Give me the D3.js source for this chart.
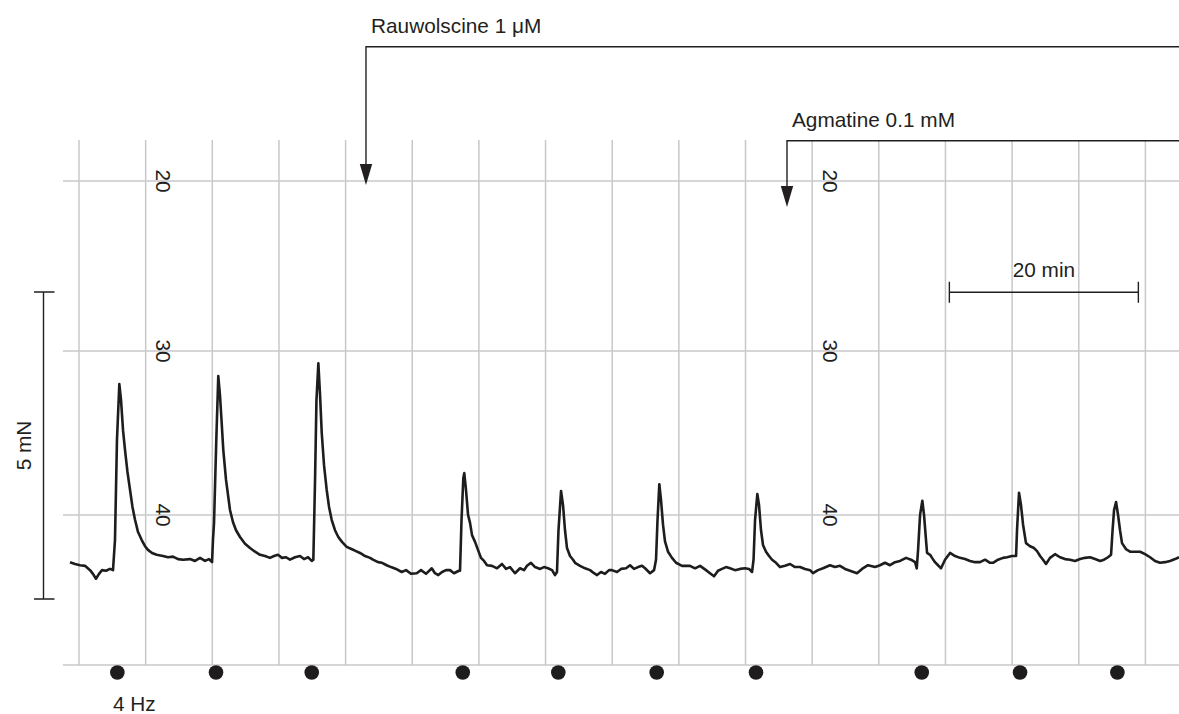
<!DOCTYPE html>
<html>
<head>
<meta charset="utf-8">
<script src="https://cdn.jsdelivr.net/npm/d3@7"></script>
<style>
  body { margin: 0; background: #fff; }
  text { font-family: "Liberation Sans", Arial, Helvetica, sans-serif; fill: #231f20; }
</style>
</head>
<body>
<div id="container"></div>
<script>
/* CONSTANTS AND GLOBALS */
const width = 1179,
  height = 714,
  fontSize = 20.8;

/* DATA */
// force trace: [time (min), tension (mN)]
const trace = [
  [0.00,0.60],[0.53,0.57],[1.06,0.55],[1.59,0.54],[2.12,0.47],[2.43,0.41],[2.75,0.33],[3.07,0.41],
  [3.39,0.47],[3.81,0.46],[4.23,0.49],[4.55,0.47],[4.76,0.96],[4.97,2.59],[5.22,3.50],[5.40,3.24],
  [5.61,2.75],[5.82,2.43],[6.08,2.07],[6.35,1.78],[6.61,1.50],[6.88,1.29],[7.20,1.09],[7.59,0.96],
  [7.94,0.86],[8.25,0.80],[8.68,0.75],[9.17,0.72],[9.84,0.70],[10.37,0.68],[10.90,0.69],[11.43,0.65],
  [11.96,0.64],[12.70,0.65],[13.23,0.62],[13.76,0.67],[14.29,0.62],[14.71,0.65],[15.03,0.60],
  [15.13,0.96],[15.24,1.24],[15.48,2.59],[15.69,3.63],[15.87,3.32],[16.03,2.92],[16.22,2.43],
  [16.51,1.94],[16.93,1.45],[17.25,1.25],[17.57,1.12],[17.99,1.01],[18.52,0.90],[19.05,0.83],
  [19.58,0.77],[20.11,0.72],[20.64,0.70],[21.16,0.67],[21.59,0.70],[22.01,0.72],[22.43,0.67],
  [22.86,0.68],[23.28,0.64],[23.81,0.68],[24.34,0.70],[24.76,0.65],[25.19,0.68],[25.58,0.62],
  [25.75,0.64],[25.93,1.94],[26.08,3.24],[26.28,3.84],[26.46,3.32],[26.64,2.70],[26.88,2.18],
  [27.16,1.78],[27.41,1.50],[27.69,1.29],[28.04,1.12],[28.39,1.01],[28.78,0.93],[29.28,0.85],
  [29.84,0.81],[30.26,0.78],[30.69,0.75],[31.22,0.70],[31.75,0.67],[32.06,0.64],[32.59,0.60],
  [33.02,0.59],[33.51,0.55],[33.97,0.52],[34.50,0.49],[35.10,0.44],[35.56,0.47],[36.08,0.41],
  [36.69,0.42],[37.14,0.47],[37.67,0.41],[38.28,0.50],[38.62,0.42],[38.97,0.39],[39.37,0.44],
  [39.79,0.47],[40.21,0.47],[40.63,0.42],[41.16,0.46],
  [41.27,0.46],[41.43,1.29],[41.62,1.97],[41.72,2.05],[41.90,1.78],[42.12,1.37],[42.33,1.24],
  [42.54,1.04],[42.86,0.93],[43.17,0.80],[43.49,0.67],[43.81,0.62],[44.13,0.55],[44.66,0.54],
  [45.19,0.50],[45.71,0.57],[46.14,0.49],[46.56,0.52],[47.09,0.42],[47.62,0.50],[48.04,0.47],
  [48.36,0.54],[48.78,0.59],[49.21,0.52],[49.74,0.49],[50.16,0.52],[50.58,0.50],[51.01,0.47],
  [51.32,0.39],
  [51.53,0.44],[51.69,1.12],[51.96,1.76],[52.17,1.53],[52.38,1.12],[52.59,0.83],[52.91,0.70],
  [53.23,0.64],[53.44,0.59],[53.97,0.54],[54.50,0.50],[55.03,0.47],[55.45,0.42],[55.77,0.39],
  [56.19,0.44],[56.61,0.41],[57.04,0.47],[57.35,0.47],[57.88,0.44],[58.31,0.49],[58.84,0.50],
  [59.26,0.55],[59.68,0.49],[60.11,0.52],[60.53,0.54],[60.85,0.50],[61.38,0.42],
  [61.80,0.47],[62.01,0.64],[62.17,1.29],[62.36,1.87],[62.54,1.61],[62.75,1.21],[62.96,0.94],
  [63.28,0.77],[63.70,0.67],[64.13,0.59],[64.76,0.54],[65.61,0.54],[66.14,0.50],[66.67,0.54],
  [67.30,0.47],[67.72,0.42],[68.15,0.37],[68.57,0.46],[68.99,0.49],[69.42,0.52],[69.84,0.50],
  [70.37,0.47],[70.90,0.49],[71.43,0.50],[71.85,0.49],[72.17,0.44],
  [72.33,0.64],[72.49,1.29],[72.73,1.71],[72.91,1.53],[73.12,1.12],[73.33,0.88],[73.65,0.77],
  [73.97,0.70],[74.29,0.64],[74.71,0.59],[75.13,0.52],[75.66,0.54],[76.19,0.57],[76.72,0.52],
  [77.25,0.52],[77.78,0.49],[78.31,0.47],[78.62,0.42],[79.15,0.47],[79.68,0.50],[80.42,0.55],
  [80.95,0.52],[81.48,0.54],[82.01,0.49],[82.54,0.46],[83.28,0.42],[83.81,0.49],[84.44,0.55],
  [85.19,0.52],[85.71,0.55],[86.24,0.59],[86.77,0.55],[87.30,0.60],[87.83,0.62],[88.47,0.67],
  [88.99,0.64],[89.42,0.60],[89.60,0.50],
  [89.74,0.80],[89.95,1.37],[90.19,1.60],[90.37,1.37],[90.58,0.96],[90.69,0.75],[91.01,0.72],
  [91.22,0.67],[91.53,0.60],[91.85,0.55],[92.17,0.50],[92.59,0.64],[93.12,0.75],[93.65,0.70],
  [94.18,0.67],[94.71,0.65],[95.24,0.62],[95.77,0.60],[96.30,0.60],[96.83,0.64],[97.35,0.59],
  [97.67,0.59],[98.20,0.64],[98.73,0.67],[99.15,0.68],[99.68,0.70],[100.11,0.70],
  [100.21,1.12],[100.42,1.73],[100.63,1.53],[100.85,1.21],[101.16,0.91],[101.59,0.86],
  [102.01,0.83],[102.33,0.78],[102.65,0.70],[102.96,0.64],[103.28,0.57],[103.70,0.67],
  [104.23,0.73],[104.76,0.68],[105.29,0.65],[105.82,0.64],[106.35,0.62],[106.88,0.65],
  [107.41,0.67],[107.94,0.68],[108.47,0.65],[109.00,0.62],[109.42,0.64],[109.84,0.68],[110.16,0.72],
  [110.32,1.12],[110.48,1.45],[110.69,1.58],[110.90,1.37],[111.11,1.12],[111.32,0.91],
  [111.75,0.81],[112.17,0.77],[112.70,0.77],[113.23,0.77],[113.76,0.73],[114.29,0.68],
  [114.81,0.62],[115.34,0.59],[115.87,0.60],[116.40,0.62],[116.93,0.65],[117.35,0.68]
];

// electrical field stimulation (4 Hz) times, min
const stimTimes = [5.01, 15.45, 25.58, 41.56, 51.67, 62.08, 72.59, 90.13, 100.53, 110.83];

// drug additions
const drugs = [
  { name: "Rauwolscine 1 \u03bcM", time: 31.32 },
  { name: "Agmatine 0.1 mM", time: 75.87 }
];

// chart paper grid
const paperCols = d3.range(17);
const paperRows = [20, 30, 40];
const paperLabelCols = [1, 11];

// scale bars
const timeBar = { start: 93.05, length: 20, label: "20 min" };
const forceBar = { start: 0, length: 5, label: "5 mN" };
const stimLabel = "4 Hz";

/* SCALES */
const xScale = d3.scaleLinear()
  .domain([0, 117.35])
  .range([70, 1179]);

const yScale = d3.scaleLinear()
  .domain([0, 5])
  .range([599, 292]);

// chart paper (not data) scales
const paperX = d3.scaleLinear().domain([0, 16]).range([79, 1145.4]);
const paperY = d3.scaleLinear().domain([20, 30, 40]).range([181, 351, 515]);
const paperTop = 140, paperBottom = 665, paperLeft = 63;

const svg = d3.select("#container")
  .append("svg")
  .attr("width", width)
  .attr("height", height);

/* GRID */
const grid = svg.append("g")
  .attr("stroke", "#c8c8cb")
  .attr("stroke-width", 1.5);

grid.selectAll("line.v")
  .data(paperCols)
  .join("line")
  .attr("class", "v")
  .attr("x1", d => paperX(d))
  .attr("x2", d => paperX(d))
  .attr("y1", paperTop)
  .attr("y2", paperBottom);

grid.selectAll("line.h")
  .data(paperRows)
  .join("line")
  .attr("class", "h")
  .attr("x1", paperLeft)
  .attr("x2", width)
  .attr("y1", d => paperY(d))
  .attr("y2", d => paperY(d));

grid.append("line")
  .attr("x1", paperLeft)
  .attr("x2", width)
  .attr("y1", paperBottom)
  .attr("y2", paperBottom);

// rotated paper labels
paperLabelCols.forEach(c => {
  svg.append("g")
    .selectAll("text")
    .data(paperRows)
    .join("text")
    .attr("transform", d => `translate(${paperX(c) + 18}, ${paperY(d)}) rotate(90)`)
    .attr("text-anchor", "middle")
    .attr("dominant-baseline", "central")
    .attr("font-size", fontSize)
    .text(d => d);
});

/* TRACE */
const lineGen = d3.line()
  .x(d => xScale(d[0]))
  .y(d => yScale(d[1]));

svg.append("path")
  .datum(trace)
  .attr("d", lineGen)
  .attr("fill", "none")
  .attr("stroke", "#1f1c1d")
  .attr("stroke-width", 2.6)
  .attr("stroke-linejoin", "round");

/* STIMULATION DOTS */
svg.selectAll("circle.stim")
  .data(stimTimes)
  .join("circle")
  .attr("class", "stim")
  .attr("cx", d => xScale(d))
  .attr("cy", 672.5)
  .attr("r", 7.3)
  .attr("fill", "#1f1c1d");

svg.append("text")
  .attr("x", 113)
  .attr("y", 711)
  .attr("font-size", fontSize)
  .text(stimLabel);

/* DRUG ARROWS */
const arrowLevels = [
  { lineY: 46.7, tipY: 185, textY: 32.5 },
  { lineY: 140.7, tipY: 207, textY: 127 }
];

drugs.forEach((d, i) => {
  const lv = arrowLevels[i];
  const x = xScale(d.time);
  svg.append("path")
    .attr("d", `M${width},${lv.lineY}H${x}V${lv.tipY - 18}`)
    .attr("fill", "none")
    .attr("stroke", "#231f20")
    .attr("stroke-width", 1.4);
  svg.append("path")
    .attr("d", `M${x - 6.2},${lv.tipY - 21}L${x + 6.2},${lv.tipY - 21}L${x},${lv.tipY}Z`)
    .attr("fill", "#231f20");
  svg.append("text")
    .attr("x", x + 5)
    .attr("y", lv.textY)
    .attr("font-size", fontSize)
    .text(d.name);
});

/* SCALE BARS */
const tb0 = xScale(timeBar.start), tb1 = xScale(timeBar.start + timeBar.length);
const tbY = 292.3;
svg.append("path")
  .attr("d", `M${tb0},${tbY - 10.5}V${tbY + 10.5}M${tb0},${tbY}H${tb1}M${tb1},${tbY - 10.5}V${tbY + 10.5}`)
  .attr("fill", "none")
  .attr("stroke", "#231f20")
  .attr("stroke-width", 1.4);
svg.append("text")
  .attr("x", (tb0 + tb1) / 2)
  .attr("y", 276.7)
  .attr("text-anchor", "middle")
  .attr("font-size", fontSize)
  .text(timeBar.label);

const fb0 = yScale(forceBar.start), fb1 = yScale(forceBar.start + forceBar.length);
const fbX = 43.5;
svg.append("path")
  .attr("d", `M${fbX - 9.5},${fb0}H${fbX + 11}M${fbX},${fb0}V${fb1}M${fbX - 9.5},${fb1}H${fbX + 11}`)
  .attr("fill", "none")
  .attr("stroke", "#231f20")
  .attr("stroke-width", 1.4);
svg.append("text")
  .attr("transform", `translate(${23.5}, ${(fb0 + fb1) / 2}) rotate(-90)`)
  .attr("text-anchor", "middle")
  .attr("dominant-baseline", "central")
  .attr("font-size", fontSize)
  .text(forceBar.label);
</script>
</body>
</html>
